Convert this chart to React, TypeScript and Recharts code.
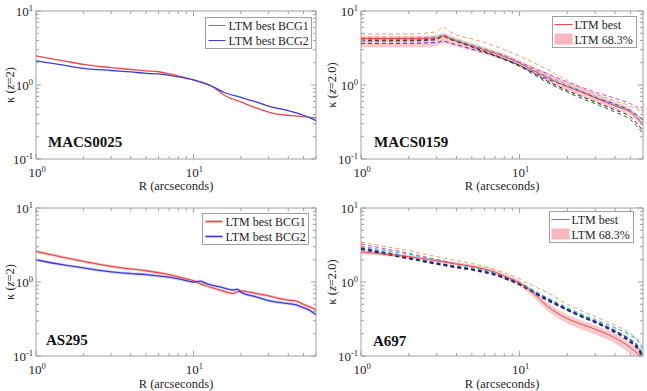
import React from 'react';
import { ComposedChart, Line, Area, XAxis, YAxis, ReferenceArea } from 'recharts';

const FONT = 'Liberation Serif, DejaVu Serif, serif';
const AXIS_GREY = '#a0a0a0';
const TEXT = '#262626';

// Shared log-axis ticks (decades labelled, minors unlabelled)
const X_TICKS = [1, 2, 3, 4, 5, 6, 7, 8, 9, 10, 20, 30, 40, 50, 60];
const Y_TICKS = [0.1, 0.2, 0.3, 0.4, 0.5, 0.6, 0.7, 0.8, 0.9, 1, 2, 3, 4, 5, 6, 7, 8, 9, 10];
const X_DOMAIN = [1, 60];
const Y_DOMAIN = [0.1, 10];

// MACS0025
const r0025 = [1, 1.5, 2, 3, 4, 5, 6, 7, 8, 10, 13, 16, 20, 25, 30, 35, 40, 45, 50, 55, 60];
const bcg1_0025 = [2.48, 2.12, 1.9, 1.72, 1.62, 1.55, 1.51, 1.42, 1.33, 1.17, 0.97, 0.71, 0.59, 0.49, 0.43, 0.4, 0.39, 0.38, 0.375, 0.365, 0.36];
const bcg2_0025 = [2.12, 1.85, 1.68, 1.57, 1.5, 1.44, 1.41, 1.35, 1.29, 1.17, 0.97, 0.78, 0.68, 0.59, 0.52, 0.48, 0.45, 0.42, 0.39, 0.36, 0.33];

// MACS0159
const r0159 = [1, 1.5, 2, 2.5, 3, 3.3, 3.6, 4, 5, 6, 8, 10, 12, 15, 20, 25, 30, 40, 50, 60];
const best0159 = [4.25, 4.25, 4.25, 4.28, 4.35, 4.6, 4.3, 3.96, 3.38, 2.98, 2.42, 1.97, 1.6, 1.26, 0.95, 0.79, 0.67, 0.52, 0.43, 0.29];
const lo0159 = [3.2, 3.2, 3.2, 3.25, 3.35, 3.6, 3.5, 3.3, 2.9, 2.6, 2.15, 1.78, 1.45, 1.12, 0.84, 0.7, 0.6, 0.47, 0.39, 0.27];
const hi0159 = [4.6, 4.6, 4.6, 4.65, 4.75, 5.0, 4.7, 4.3, 3.7, 3.25, 2.65, 2.15, 1.8, 1.45, 1.1, 0.9, 0.76, 0.59, 0.48, 0.33];
const orange0159 = [4.9, 4.9, 4.9, 5.0, 5.3, 6.0, 5.3, 4.75, 4.2, 3.75, 3.0, 2.45, 2.05, 1.62, 1.15, 0.9, 0.76, 0.61, 0.52, 0.42];
const magenta0159 = [4.2, 4.2, 4.2, 4.25, 4.3, 4.55, 4.3, 4.0, 3.45, 3.05, 2.5, 2.05, 1.72, 1.42, 1.1, 0.92, 0.8, 0.66, 0.56, 0.45];
const black0159 = [3.95, 3.95, 3.95, 4.0, 4.1, 4.65, 4.2, 3.9, 3.3, 2.85, 2.25, 1.84, 1.48, 1.13, 0.84, 0.69, 0.59, 0.46, 0.37, 0.24];
const blue0159 = [3.65, 3.65, 3.65, 3.7, 3.75, 3.95, 3.7, 3.5, 3.05, 2.75, 2.25, 1.84, 1.52, 1.2, 0.96, 0.8, 0.68, 0.55, 0.45, 0.34];
const cyan0159 = [4.35, 4.35, 4.35, 4.4, 4.45, 4.8, 4.45, 4.1, 3.5, 3.1, 2.5, 2.02, 1.65, 1.32, 1.0, 0.82, 0.7, 0.54, 0.44, 0.31];
const green0159 = [4.05, 4.05, 4.05, 4.1, 4.2, 4.5, 4.2, 3.85, 3.25, 2.8, 2.2, 1.78, 1.42, 1.08, 0.8, 0.65, 0.56, 0.43, 0.34, 0.22];

// AS295
const r295 = [1, 1.5, 2, 3, 4, 5, 7, 8.5, 10, 11, 12, 15, 18, 19, 20, 25, 30, 35, 40, 45, 50, 55, 60];
const bcg1_295 = [2.6, 2.15, 1.9, 1.63, 1.5, 1.42, 1.26, 1.14, 1.04, 0.95, 0.89, 0.77, 0.7, 0.74, 0.76, 0.7, 0.65, 0.6, 0.57, 0.55, 0.5, 0.46, 0.42];
const bcg2_295 = [2.0, 1.7, 1.55, 1.37, 1.3, 1.26, 1.16, 1.08, 1.0, 1.03, 0.96, 0.85, 0.78, 0.8, 0.73, 0.63, 0.56, 0.53, 0.51, 0.49, 0.45, 0.41, 0.36];

// A697
const r697 = [1, 1.5, 2, 3, 4, 5, 6, 7, 8, 10, 12, 15, 20, 25, 30, 40, 50, 55, 60];
const best697 = [2.55, 2.35, 2.2, 1.94, 1.75, 1.63, 1.5, 1.36, 1.2, 0.97, 0.73, 0.47, 0.32, 0.265, 0.23, 0.175, 0.13, 0.11, 0.095];
const lo697 = [2.4, 2.22, 2.08, 1.84, 1.66, 1.54, 1.4, 1.26, 1.1, 0.88, 0.64, 0.41, 0.275, 0.225, 0.195, 0.148, 0.108, 0.092, 0.08];
const hi697 = [2.72, 2.5, 2.33, 2.05, 1.85, 1.73, 1.6, 1.46, 1.3, 1.05, 0.8, 0.53, 0.36, 0.3, 0.26, 0.2, 0.15, 0.13, 0.11];
const orange697 = [3.45, 2.95, 2.65, 2.2, 1.95, 1.78, 1.62, 1.48, 1.33, 1.1, 0.9, 0.72, 0.5, 0.4, 0.34, 0.26, 0.2, 0.17, 0.13];
const magenta697 = [3.25, 2.75, 2.45, 2.02, 1.77, 1.6, 1.45, 1.32, 1.18, 0.96, 0.76, 0.58, 0.42, 0.34, 0.29, 0.215, 0.165, 0.14, 0.105];
const cyan697 = [3.05, 2.62, 2.38, 1.98, 1.74, 1.59, 1.46, 1.34, 1.21, 0.98, 0.79, 0.61, 0.45, 0.36, 0.31, 0.24, 0.19, 0.165, 0.12];
const navy697 = [2.8, 2.35, 2.08, 1.76, 1.58, 1.47, 1.36, 1.25, 1.13, 0.93, 0.74, 0.57, 0.42, 0.335, 0.285, 0.21, 0.155, 0.13, 0.095];
const blue697 = [2.9, 2.45, 2.15, 1.8, 1.62, 1.5, 1.39, 1.28, 1.16, 0.95, 0.76, 0.59, 0.43, 0.345, 0.295, 0.22, 0.165, 0.14, 0.1];

type Row = Record<string, number>;
const rows = (r: number[], cols: Record<string, number[]>): Row[] =>
  r.map((R, i) => {
    const o: Row = { R };
    Object.keys(cols).forEach((k) => (o[k] = cols[k][i]));
    return o;
  });

const data0025 = rows(r0025, { bcg1: bcg1_0025, bcg2: bcg2_0025 });
const data0159 = rows(r0159, {
  best: best0159, lo: lo0159, hi: hi0159, orange: orange0159, magenta: magenta0159,
  black: black0159, blue: blue0159, cyan: cyan0159, green: green0159,
});
const data295 = rows(r295, { bcg1: bcg1_295, bcg2: bcg2_295 });
const data697 = rows(r697, {
  best: best697, lo: lo697, hi: hi697, orange: orange697, magenta: magenta697,
  cyan: cyan697, navy: navy697, blue: blue697,
});

type LineSpec = { key: string; color: string; width?: number; dash?: string };
type BandSpec = { lo: (d: Row) => number; hi: (d: Row) => number; color: string; opacity: number };

const isDecade = (v: number) => Math.abs(Math.log10(v) - Math.round(Math.log10(v))) < 1e-9;

const textStyle = { fontFamily: FONT };

const Pow = ({ v }: { v: number }) => (
  <>
    10<tspan dy={-5} fontSize={8.5}>{Math.round(Math.log10(v))}</tspan>
  </>
);

function makeXTick(plotH: number) {
  return (p: any) => {
    const { x, y, payload } = p;
    const v = payload.value;
    const major = isDecade(v);
    const len = major ? 5 : 3;
    return (
      <g>
        <line x1={x} x2={x} y1={y} y2={y - len} stroke={AXIS_GREY} />
        <line x1={x} x2={x} y1={y - plotH} y2={y - plotH + len} stroke={AXIS_GREY} />
        {major && (
          <text x={x + 1} y={y + 18} textAnchor="middle" style={textStyle} fontSize={13} fill={TEXT}>
            <Pow v={v} />
          </text>
        )}
      </g>
    );
  };
}

function makeYTick(plotW: number) {
  return (p: any) => {
    const { x, y, payload } = p;
    const v = payload.value;
    const major = isDecade(v);
    const len = major ? 5 : 3;
    return (
      <g>
        <line x1={x} x2={x + len} y1={y} y2={y} stroke={AXIS_GREY} />
        <line x1={x + plotW} x2={x + plotW - len} y1={y} y2={y} stroke={AXIS_GREY} />
        {major && (
          <text x={x - 3} y={y + 5} textAnchor="end" style={textStyle} fontSize={13} fill={TEXT}>
            <Pow v={v} />
          </text>
        )}
      </g>
    );
  };
}

type PanelProps = {
  left: number; top: number; width: number; height: number;
  mTop: number; mRight: number; yw: number; xh: number;
  data: Row[]; lines: LineSpec[]; bands: BandSpec[];
};

function Panel({ left, top, width, height, mTop, mRight, yw, xh, data, lines, bands }: PanelProps) {
  const plotW = width - yw - mRight;
  const plotH = height - mTop - xh;
  return (
    <div style={{ position: 'absolute', left, top }}>
      <ComposedChart width={width} height={height} data={data} margin={{ top: mTop, right: mRight, bottom: 0, left: 0 }}>
        <XAxis
          dataKey="R" type="number" scale="log" domain={X_DOMAIN} allowDataOverflow ticks={X_TICKS}
          interval={0} tickSize={0} tickMargin={0} axisLine={false} tickLine={false} height={xh}
          tick={makeXTick(plotH)}
        />
        <YAxis
          type="number" scale="log" domain={Y_DOMAIN} allowDataOverflow ticks={Y_TICKS}
          interval={0} tickSize={0} tickMargin={0} axisLine={false} tickLine={false} width={yw}
          tick={makeYTick(plotW)}
        />
        {bands.map((b, i) => (
          <Area
            key={'b' + i} dataKey={(d: Row) => [b.lo(d), b.hi(d)]} type="monotone"
            stroke="none" fill={b.color} fillOpacity={b.opacity} isAnimationActive={false}
            dot={false} activeDot={false}
          />
        ))}
        {lines.map((l) => (
          <Line
            key={l.key} dataKey={l.key} type="monotone" stroke={l.color} strokeWidth={l.width ?? 1}
            strokeDasharray={l.dash} dot={false} activeDot={false} isAnimationActive={false}
          />
        ))}
        <ReferenceArea x1={X_DOMAIN[0]} x2={X_DOMAIN[1]} y1={Y_DOMAIN[0]} y2={Y_DOMAIN[1]} fill="none" fillOpacity={0} stroke={AXIS_GREY} strokeOpacity={1} />
      </ComposedChart>
    </div>
  );
}

const DASH = '4 3';
const RED = '#e84a4a';
const BLUE = '#3a3ae0';
const PINK = '#f6b8be';

function KappaLabel({ x, y, z }: { x: number; y: number; z: string }) {
  return (
    <text x={x} y={y} transform={`rotate(-90 ${x} ${y})`} textAnchor="middle" style={textStyle} fontSize={12.5} fill={TEXT}>
      κ (<tspan fontStyle="italic">z</tspan>={z})
    </text>
  );
}

function XLabel({ x, y }: { x: number; y: number }) {
  return (
    <text x={x} y={y} textAnchor="middle" style={textStyle} fontSize={12.5} fill={TEXT}>
      R (arcseconds)
    </text>
  );
}

function Name({ x, y, t }: { x: number; y: number; t: string }) {
  return (
    <text x={x} y={y} style={textStyle} fontSize={15} fontWeight="bold" fill="#111">
      {t}
    </text>
  );
}

function LegendBCG({ x, y, banded }: { x: number; y: number; banded: boolean }) {
  return (
    <g style={textStyle} fontSize={12} fill={TEXT}>
      <rect x={x} y={y} width={106} height={31} fill="#fff" stroke={AXIS_GREY} />
      {banded && <line x1={x + 3} x2={x + 20} y1={y + 8} y2={y + 8} stroke="#f6b4b4" strokeWidth={3} />}
      <line x1={x + 3} x2={x + 20} y1={y + 8} y2={y + 8} stroke={RED} strokeWidth={1} />
      <text x={x + 23} y={y + 12}>LTM best BCG1</text>
      {banded && <line x1={x + 3} x2={x + 20} y1={y + 23} y2={y + 23} stroke="#b8b8f4" strokeWidth={3} />}
      <line x1={x + 3} x2={x + 20} y1={y + 23} y2={y + 23} stroke={BLUE} strokeWidth={1} />
      <text x={x + 23} y={y + 27}>LTM best BCG2</text>
    </g>
  );
}

function LegendLTM({ x, y }: { x: number; y: number }) {
  return (
    <g style={textStyle} fontSize={12} fill={TEXT}>
      <rect x={x} y={y} width={84} height={31} fill="#fff" stroke={AXIS_GREY} />
      <line x1={x + 2} x2={x + 20} y1={y + 8} y2={y + 8} stroke={RED} strokeWidth={1} />
      <text x={x + 22} y={y + 12}>LTM best</text>
      <rect x={x + 2} y={y + 17} width={18} height={11} fill={PINK} />
      <text x={x + 22} y={y + 27}>LTM 68.3%</text>
    </g>
  );
}

export default function App() {
  const bcgLines: LineSpec[] = [
    { key: 'bcg1', color: RED, width: 1.3 },
    { key: 'bcg2', color: BLUE, width: 1.3 },
  ];
  const lines0159: LineSpec[] = [
    { key: 'orange', color: '#f0a060', dash: DASH },
    { key: 'magenta', color: '#e040e0', dash: DASH },
    { key: 'cyan', color: '#40c8c8', dash: DASH },
    { key: 'green', color: '#2e6b2e', dash: DASH },
    { key: 'blue', color: '#3030d0', dash: DASH },
    { key: 'black', color: '#222222', dash: DASH },
    { key: 'best', color: RED, width: 1 },
  ];
  const lines697: LineSpec[] = [
    { key: 'orange', color: '#f0a060', dash: DASH },
    { key: 'magenta', color: '#e040e0', dash: DASH },
    { key: 'cyan', color: '#40c8c8', dash: DASH, width: 1.3 },
    { key: 'blue', color: '#3a4fc8', dash: DASH, width: 1.5 },
    { key: 'navy', color: '#1f2b60', dash: DASH, width: 2 },
    { key: 'best', color: RED, width: 1 },
  ];
  const ltmBand: BandSpec[] = [{ lo: (d) => d.lo, hi: (d) => d.hi, color: PINK, opacity: 0.75 }];
  const bcgBands: BandSpec[] = [
    { lo: (d) => d.bcg1 * 0.95, hi: (d) => d.bcg1 * 1.05, color: '#f4a8a8', opacity: 0.45 },
    { lo: (d) => d.bcg2 * 0.95, hi: (d) => d.bcg2 * 1.05, color: '#a8a8f4', opacity: 0.45 },
  ];

  return (
    <div style={{ position: 'absolute', left: 0, top: 0, width: 647, height: 391, background: '#fff', overflow: 'hidden' }}>
      <Panel left={0} top={0} width={323} height={195} mTop={11} mRight={7} yw={36} xh={36} data={data0025} lines={bcgLines} bands={[]} />
      <Panel left={323} top={0} width={324} height={195} mTop={11} mRight={4} yw={38} xh={36} data={data0159} lines={lines0159} bands={ltmBand} />
      <Panel left={0} top={195} width={323} height={196} mTop={13} mRight={7} yw={36} xh={35} data={data295} lines={bcgLines} bands={bcgBands} />
      <Panel left={323} top={195} width={324} height={196} mTop={13} mRight={4} yw={38} xh={35} data={data697} lines={lines697} bands={ltmBand} />
      <svg width={647} height={391} style={{ position: 'absolute', left: 0, top: 0, pointerEvents: 'none' }}>
        <KappaLabel x={14} y={85} z="2" />
        <KappaLabel x={336} y={85} z="2.0" />
        <KappaLabel x={14} y={282} z="2" />
        <KappaLabel x={336} y={282} z="2.0" />
        <XLabel x={176} y={190} />
        <XLabel x={502} y={190} />
        <XLabel x={176} y={388} />
        <XLabel x={502} y={388} />
        <Name x={48} y={147} t="MACS0025" />
        <Name x={374} y={147} t="MACS0159" />
        <Name x={46} y={345} t="AS295" />
        <Name x={373} y={346} t="A697" />
        <LegendBCG x={205.5} y={17.5} banded={false} />
        <LegendLTM x={552.5} y={16.5} />
        <LegendBCG x={202.5} y={213.5} banded={true} />
        <LegendLTM x={549.5} y={211.5} />
      </svg>
    </div>
  );
}
